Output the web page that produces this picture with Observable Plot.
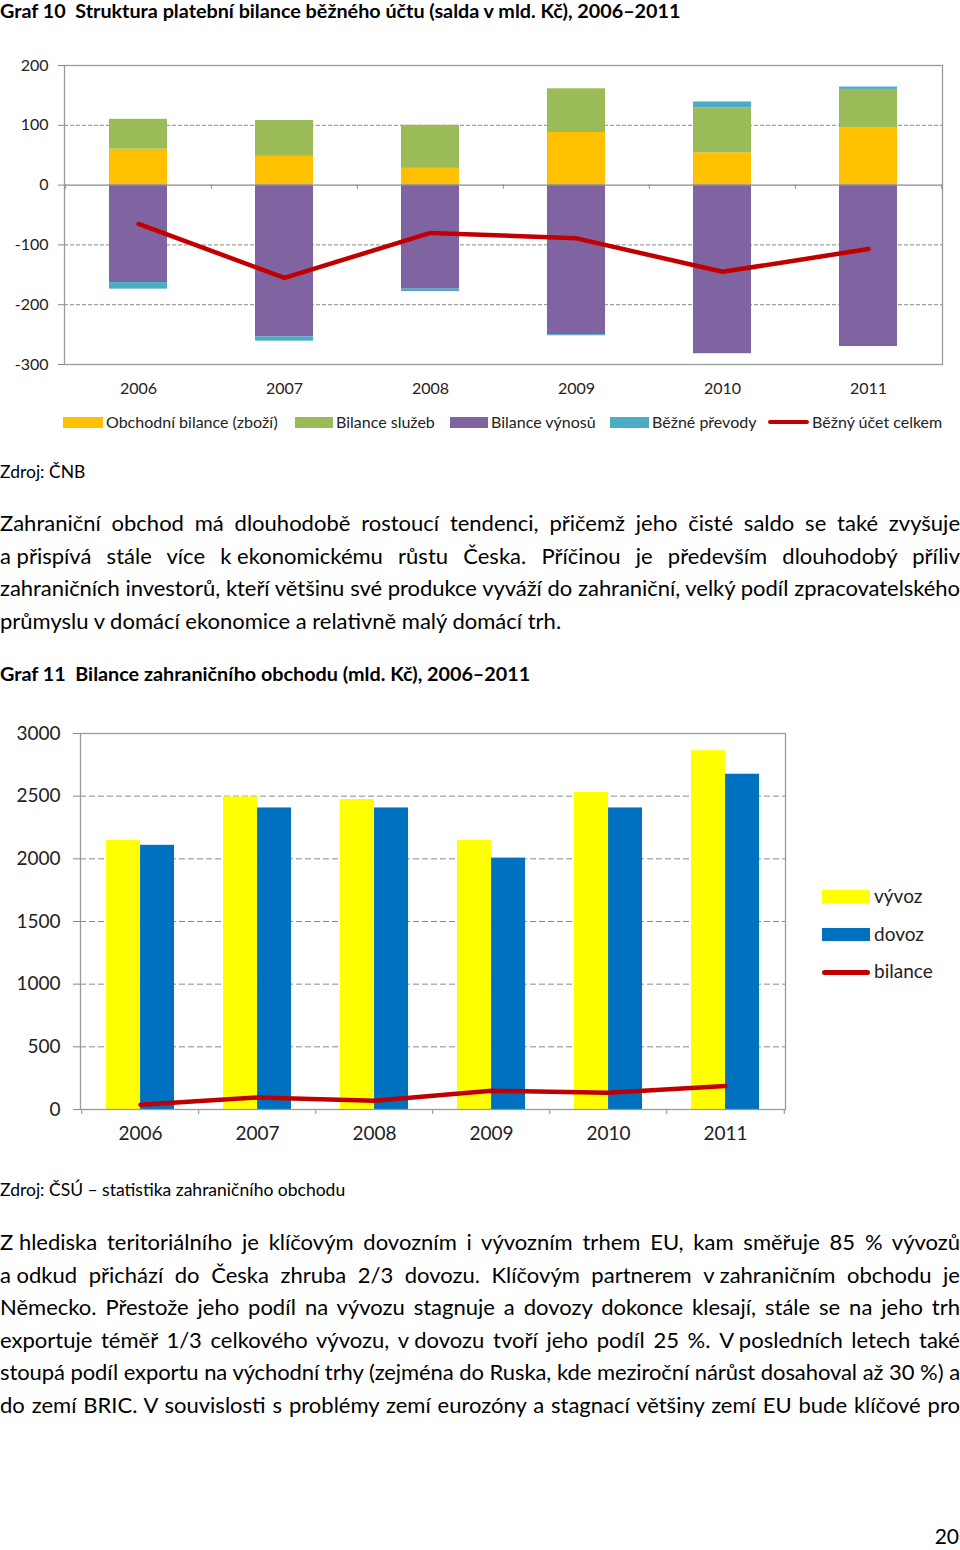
<!DOCTYPE html>
<html><head><meta charset="utf-8">
<script src="https://cdn.jsdelivr.net/npm/d3@7"></script>
<script src="https://cdn.jsdelivr.net/npm/@observablehq/plot@0.6"></script>
<style>
body{margin:0;background:#fff;}
#page{position:relative;width:960px;height:1550px;font-family:Lato,"Open Sans",sans-serif;color:#000;overflow:hidden;background:#fff;}
.abs{position:absolute;}
.title{font-weight:bold;font-size:19.75px;line-height:22px;white-space:nowrap;left:0;}
.src{font-size:17.5px;line-height:22px;left:0;white-space:nowrap;}
.para{left:0;width:960px;font-size:22px;}
.ln{text-align:justify;text-align-last:justify;width:960px;}
.ln.last{text-align:left;text-align-last:left;}
.nb{display:inline-block;white-space:nowrap;}
.leg{font-size:16px;color:#222;line-height:20px;white-space:nowrap;}
.leg2{font-size:19px;color:#222;line-height:22px;white-space:nowrap;}
.sw{position:absolute;}
</style></head>
<body><div id="page">
<div class="abs title" style="top:0px;">Graf 10&nbsp; Struktura platební bilance běžného účtu (salda v mld. Kč), 2006–2011</div>
<div id="c1" class="abs" style="left:0;top:45px;"></div>
<div id="leg1"></div>
<div class="abs src" style="top:461px;">Zdroj: ČNB</div>
<div class="abs para" style="top:507px;line-height:32.7px;">
<div class="ln">Zahraniční obchod má dlouhodobě rostoucí tendenci, přičemž jeho čisté saldo se také zvyšuje</div>
<div class="ln"><span class="nb">a přispívá</span> stále více <span class="nb">k ekonomickému</span> růstu Česka. Příčinou je především dlouhodobý příliv</div>
<div class="ln">zahraničních investorů, kteří většinu své produkce vyváží do zahraniční, velký podíl zpracovatelského</div>
<div class="ln last">průmyslu v domácí ekonomice a relativně malý domácí trh.</div>
</div>
<div class="abs title" style="top:663px;">Graf 11&nbsp; Bilance zahraničního obchodu (mld. Kč), 2006–2011</div>
<div id="c2" class="abs" style="left:0;top:715px;"></div>
<div id="leg2"></div>
<div class="abs src" style="top:1179px;">Zdroj: ČSÚ – statistika zahraničního obchodu</div>
<div class="abs para" style="top:1226px;line-height:32.5px;">
<div class="ln"><span class="nb">Z hlediska</span> teritoriálního je klíčovým dovozním i vývozním trhem EU, kam směřuje 85 % vývozů</div>
<div class="ln"><span class="nb">a odkud</span> přichází do Česka zhruba 2/3 dovozu. Klíčovým partnerem <span class="nb">v zahraničním</span> obchodu je</div>
<div class="ln">Německo. Přestože jeho podíl na vývozu stagnuje a dovozy dokonce klesají, stále se na jeho trh</div>
<div class="ln">exportuje téměř 1/3 celkového vývozu, <span class="nb">v dovozu</span> tvoří jeho podíl 25 %. <span class="nb">V posledních</span> letech také</div>
<div class="ln">stoupá podíl exportu na východní trhy (zejména do Ruska, kde meziroční nárůst dosahoval až 30 %) a</div>
<div class="ln">do zemí BRIC. V souvislosti s problémy zemí eurozóny a stagnací většiny zemí EU bude klíčové pro</div>
</div>
<div class="abs" style="right:1px;top:1524px;font-size:21px;line-height:24px;">20</div>
</div>
<script>
// ---------- Data: Graf 10 ----------
const years = ["2006","2007","2008","2009","2010","2011"];
const seriesNames1 = ["Obchodní bilance (zboží)","Bilance služeb","Bilance výnosů","Běžné převody"];
const goods     = [60, 48, 28, 88, 54, 96];
const services  = [50, 60, 72, 73, 75, 64];
const income    = [-163, -254, -174, -250, -282, -270];
const transfers = [-11, -7, -4, -2, 10, 4];
const currentAccount = [-65, -155, -80, -89, -145, -107];
const lineName1 = "Běžný účet celkem";
const yTicks1 = [-300, -200, -100, 0, 100, 200];
const colors1 = ["#FFC000", "#9BBB59", "#8064A2", "#4BACC6"];
const lineColor = "#C00000";

// ---------- Data: Graf 11 ----------
const exportsVals = [2148, 2494, 2473, 2148, 2529, 2862];
const importsVals = [2108, 2406, 2406, 2006, 2406, 2675];
const balanceVals = [37, 96, 69, 149, 133, 187];
const seriesNames2 = ["vývoz", "dovoz", "bilance"];
const yTicks2 = [0, 500, 1000, 1500, 2000, 2500, 3000];
const colors2 = ["#FFFF00", "#0070C0", "#C00000"];

const fmt = d => String(d);

// ---------- Chart 1 ----------
const rows1 = [];
years.forEach((y, i) => {
  [goods, services, income, transfers].forEach((arr, s) => {
    rows1.push({year: y, series: seriesNames1[s], value: arr[i]});
  });
});
const line1 = years.map((y, i) => ({year: y, value: currentAccount[i]}));

const W = 960;
const ml1 = 64, mr1 = 18;
const step1 = (W - ml1 - mr1) / years.length;

const chart1 = Plot.plot({
  width: W, height: 360,
  marginLeft: ml1, marginRight: mr1, marginTop: 20, marginBottom: 41,
  style: {fontFamily: "Lato, sans-serif", fontSize: "16px", color: "#222", background: "white"},
  x: {domain: years, paddingInner: 0.6, paddingOuter: 0.3, label: null},
  y: {domain: [-300, 200], label: null},
  color: {domain: seriesNames1, range: colors1},
  marks: [
    Plot.gridY([-200, -100, 100], {stroke: "#8a8a8a", strokeOpacity: 1, strokeDasharray: "4,2"}),
    Plot.barY(rows1, {x: "year", y: "value", fill: "series"}),
    Plot.ruleY([0], {stroke: "#8a8a8a", strokeWidth: 1.3}),
    Plot.ruleX(years, {x: d => d, y1: 0, y2: -7, dx: -step1 / 2, stroke: "#8a8a8a"}),
    Plot.ruleX([years[years.length - 1]], {x: d => d, y1: 0, y2: -7, dx: step1 / 2, stroke: "#8a8a8a"}),
    Plot.frame({stroke: "#9a9a9a", strokeWidth: 1.3}),
    Plot.line(line1, {x: "year", y: "value", stroke: lineColor, strokeWidth: 4.5, strokeLinecap: "round"}),
    Plot.axisY({ticks: yTicks1, tickFormat: fmt, tickSize: 6, tickPadding: 10, stroke: "#8a8a8a", fontSize: 16}),
    Plot.axisX({tickSize: 0, tickPadding: 18, fontSize: 16})
  ]
});
document.getElementById("c1").appendChild(chart1);

// legend 1
const leg1 = document.getElementById("leg1");
const leg1Items = [
  {name: seriesNames1[0], color: colors1[0], sx: 63, tx: 106, type: "box"},
  {name: seriesNames1[1], color: colors1[1], sx: 295, tx: 336, type: "box"},
  {name: seriesNames1[2], color: colors1[2], sx: 450, tx: 491, type: "box"},
  {name: seriesNames1[3], color: colors1[3], sx: 610, tx: 652, type: "box"},
  {name: lineName1, color: lineColor, sx: 768, tx: 812, type: "line"}
];
leg1Items.forEach(it => {
  const sw = document.createElement("div");
  sw.className = "sw";
  if (it.type === "box") {
    sw.style.cssText = `left:${it.sx}px;top:417px;width:${it.tx - it.sx - 3}px;height:11px;background:${it.color};`;
  } else {
    sw.style.cssText = `left:${it.sx}px;top:420px;width:${it.tx - it.sx - 3}px;height:4px;border-radius:2px;background:${it.color};`;
  }
  leg1.appendChild(sw);
  const t = document.createElement("div");
  t.className = "abs leg";
  t.style.cssText = `left:${it.tx}px;top:412px;`;
  t.textContent = it.name;
  leg1.appendChild(t);
});

// ---------- Chart 2 ----------
const ml2 = 80, mr2 = 175;
const step2 = (W - ml2 - mr2) / years.length;
const bw2 = step2 * 0.58;
const ex = years.map((y, i) => ({year: y, value: exportsVals[i]}));
const im = years.map((y, i) => ({year: y, value: importsVals[i]}));
const bal = years.map((y, i) => ({year: y, value: balanceVals[i]}));

const chart2 = Plot.plot({
  width: W, height: 440,
  marginLeft: ml2, marginRight: mr2, marginTop: 18, marginBottom: 46,
  style: {fontFamily: "Lato, sans-serif", fontSize: "19px", color: "#222", background: "white"},
  x: {domain: years, paddingInner: 0.42, paddingOuter: 0.21, label: null},
  y: {domain: [0, 3000], label: null},
  marks: [
    Plot.gridY([500, 1000, 1500, 2000, 2500], {stroke: "#8a8a8a", strokeOpacity: 1, strokeDasharray: "6,3"}),
    Plot.barY(ex, {x: "year", y: "value", fill: colors2[0], insetRight: bw2 / 2}),
    Plot.barY(im, {x: "year", y: "value", fill: colors2[1], insetLeft: bw2 / 2}),
    Plot.ruleX(years, {x: d => d, y1: 0, y2: -40, dx: -step2 / 2, stroke: "#8a8a8a"}),
    Plot.ruleX([years[years.length - 1]], {x: d => d, y1: 0, y2: -40, dx: step2 / 2, stroke: "#8a8a8a"}),
    Plot.frame({stroke: "#9a9a9a", strokeWidth: 1.3}),
    Plot.line(bal, {x: "year", y: "value", stroke: colors2[2], strokeWidth: 4.5, strokeLinecap: "round"}),
    Plot.axisY({ticks: yTicks2, tickFormat: fmt, tickSize: 7, tickPadding: 13, stroke: "#8a8a8a", fontSize: 19}),
    Plot.axisX({tickSize: 0, tickPadding: 17, fontSize: 19})
  ]
});
document.getElementById("c2").appendChild(chart2);

// legend 2
const leg2 = document.getElementById("leg2");
const leg2Items = [
  {name: seriesNames2[0], color: colors2[0], y: 897, type: "box"},
  {name: seriesNames2[1], color: colors2[1], y: 935, type: "box"},
  {name: seriesNames2[2], color: colors2[2], y: 972, type: "line"}
];
leg2Items.forEach(it => {
  const sw = document.createElement("div");
  sw.className = "sw";
  if (it.type === "box") {
    sw.style.cssText = `left:822px;top:${it.y - 7}px;width:48px;height:13px;background:${it.color};`;
  } else {
    sw.style.cssText = `left:822px;top:${it.y - 2}px;width:48px;height:5px;border-radius:3px;background:${it.color};`;
  }
  leg2.appendChild(sw);
  const t = document.createElement("div");
  t.className = "abs leg2";
  t.style.cssText = `left:874px;top:${it.y - 12}px;`;
  t.textContent = it.name;
  leg2.appendChild(t);
});

// keep each justified paragraph line on one line: tighten letter-spacing if it wraps
document.querySelectorAll(".ln").forEach(el => {
  const lh = parseFloat(getComputedStyle(el).lineHeight);
  let ls = 0;
  while (el.getBoundingClientRect().height > lh * 1.5 && ls > -1.5) {
    ls -= 0.05;
    el.style.letterSpacing = ls + "px";
  }
});
</script>
</body></html>
